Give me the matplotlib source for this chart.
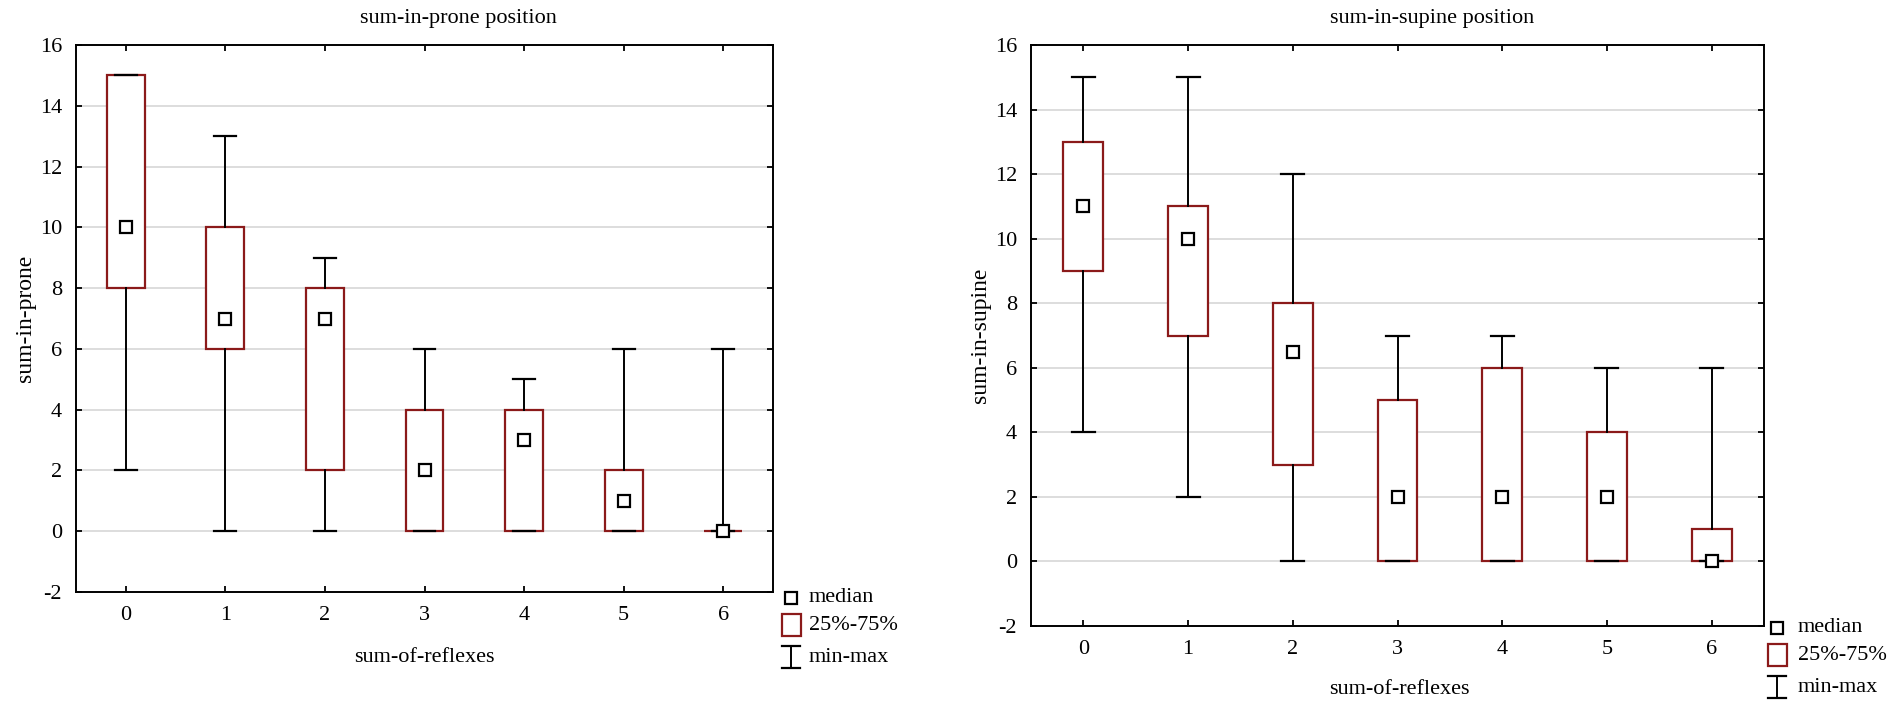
"""
Box plots of sum-in-prone / sum-in-supine against sum-of-reflexes
"""

import matplotlib
matplotlib.use('Agg')
import matplotlib.pyplot as plt
from matplotlib.lines import Line2D
from matplotlib.patches import Rectangle

plt.rcParams['font.family'] = ['Liberation Serif', 'DejaVu Serif']
plt.rcParams['axes.unicode_minus'] = False

# categories on the x axis
reflexes = [0, 1, 2, 3, 4, 5, 6]

# prone position: min, q1, median, q3, max
prone_min = [2, 0, 0, 0, 0, 0, 0]
prone_q1 = [8, 6, 2, 0, 0, 0, 0]
prone_med = [10, 7, 7, 2, 3, 1, 0]
prone_q3 = [15, 10, 8, 4, 4, 2, 0]
prone_max = [15, 13, 9, 6, 5, 6, 6]

# supine position: min, q1, median, q3, max
supine_min = [4, 2, 0, 0, 0, 0, 0]
supine_q1 = [9, 7, 3, 0, 0, 0, 0]
supine_med = [11, 10, 6.5, 2, 2, 2, 0]
supine_q3 = [13, 11, 8, 5, 6, 4, 1]
supine_max = [15, 15, 12, 7, 7, 6, 6]

y_ticks = [-2, 0, 2, 4, 6, 8, 10, 12, 14, 16]

BOX_RED = '#8b1a1a'
W, H = 1902, 706


def px(x, y):
    """ pixel position (from top left) -> figure fraction """
    return x / W, 1 - y / H


def draw_boxes(ax, mins, q1s, meds, q3s, maxs, ylabel):
    """
    Draw min-max / quartile boxes with median markers
    """
    stats = []
    for lo, q1, med, q3, hi in zip(mins, q1s, meds, q3s, maxs):
        stats.append({'whislo': lo, 'q1': q1, 'med': med, 'q3': q3, 'whishi': hi})

    ax.bxp(stats, positions=reflexes, widths=0.38, capwidths=0.22,
           showfliers=False, patch_artist=True,
           boxprops=dict(facecolor='white', edgecolor=BOX_RED, linewidth=1.6),
           whiskerprops=dict(color='black', linewidth=1.4),
           capprops=dict(color='black', linewidth=1.6),
           medianprops=dict(linewidth=0), zorder=3)

    # median as open square
    ax.plot(reflexes, meds, 's', markersize=8.5, markerfacecolor='white',
            markeredgecolor='black', markeredgewidth=1.6, linestyle='none', zorder=5)

    ax.set_xlim(-0.5, 6.5)
    ax.set_ylim(-2, 16)
    ax.set_xticks(reflexes)
    ax.set_xticklabels([str(r) for r in reflexes])
    ax.set_yticks(y_ticks)
    ax.set_yticklabels([str(t) for t in y_ticks])
    ax.yaxis.grid(True, color='#dadada', linewidth=1.3)
    ax.set_axisbelow(True)
    ax.tick_params(direction='in', length=4, width=1.3, labelsize=16,
                   top=True, right=True, pad=10)
    for sp in ax.spines.values():
        sp.set_linewidth(1.4)
    ax.set_ylabel(ylabel, fontsize=17, labelpad=3)


def draw_legend(fig, hx, text_x, rows):
    """
    Legend for median / 25%-75% / min-max, drawn in figure pixels
    """
    y0, y1, y2 = rows
    # median square
    fig.add_artist(Line2D([px(hx, y0)[0]], [px(hx, y0)[1]], marker='s', markersize=8.5,
                          markerfacecolor='white', markeredgecolor='black',
                          markeredgewidth=1.6, transform=fig.transFigure))
    # quartile box
    bx, by = px(hx - 9.5, y1 + 11)
    fig.add_artist(Rectangle((bx, by), 19 / W, 22 / H, facecolor='white',
                             edgecolor=BOX_RED, linewidth=1.6,
                             transform=fig.transFigure))
    # min-max I beam
    xa, ya = px(hx, y2 - 11)
    xb, yb = px(hx, y2 + 11)
    fig.add_artist(Line2D([xa, xb], [ya, yb], color='black', linewidth=1.4,
                          transform=fig.transFigure))
    for yy in (ya, yb):
        fig.add_artist(Line2D([xa - 9 / W, xa + 9 / W], [yy, yy], color='black',
                              linewidth=1.6, transform=fig.transFigure))
    for yy, label in zip(rows, ['median', '25%-75%', 'min-max']):
        tx, ty = px(text_x, yy)
        fig.text(tx, ty, label, fontsize=16, ha='left', va='center')


fig = plt.figure(figsize=(19.02, 7.06), dpi=100)

ax1 = fig.add_axes([76 / W, 1 - 592 / H, (773 - 76) / W, (592 - 45) / H])
draw_boxes(ax1, prone_min, prone_q1, prone_med, prone_q3, prone_max, 'sum-in-prone')
fig.text(*px(458, 18), 'sum-in-prone position', fontsize=16, ha='center', va='center')
fig.text(*px(424, 657), 'sum-of-reflexes', fontsize=16, ha='center', va='center')
draw_legend(fig, 791, 809, (598, 625, 657))

ax2 = fig.add_axes([1031 / W, 1 - 626 / H, (1764 - 1031) / W, (626 - 45) / H])
draw_boxes(ax2, supine_min, supine_q1, supine_med, supine_q3, supine_max, 'sum-in-supine')
fig.text(*px(1432, 18), 'sum-in-supine position', fontsize=16, ha='center', va='center')
fig.text(*px(1399, 689), 'sum-of-reflexes', fontsize=16, ha='center', va='center')
draw_legend(fig, 1777, 1798, (628, 655, 687))

fig.savefig('out.png', dpi=100)
